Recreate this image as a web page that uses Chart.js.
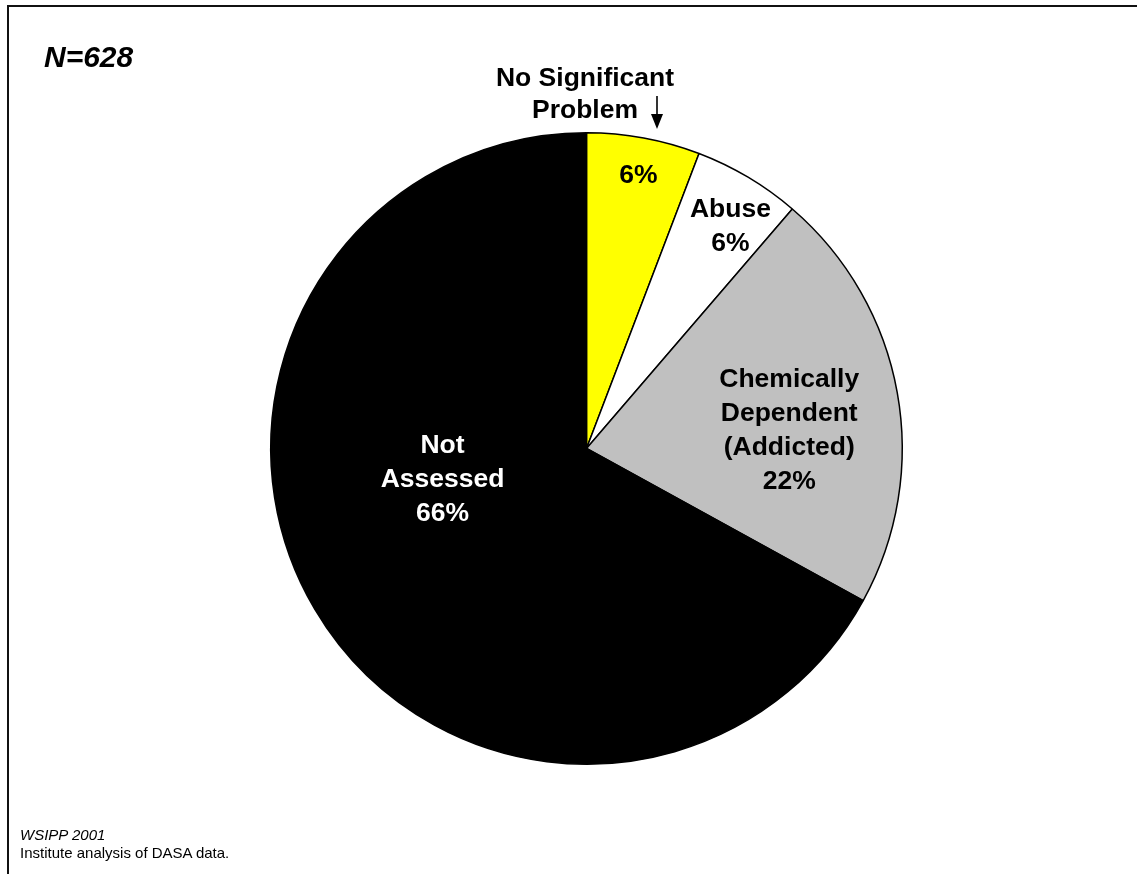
<!DOCTYPE html>
<html>
<head>
<meta charset="utf-8">
<title>Assessment status, N=628</title>
<script src="https://cdn.jsdelivr.net/npm/chart.js@4.4.0/dist/chart.umd.min.js"></script>
<style>
  html, body { margin: 0; padding: 0; background: #fff; }
  body { width: 1137px; height: 874px; position: relative; overflow: hidden;
         font-family: "Liberation Sans", Arial, sans-serif; color: #000; }
  .wrap { position: absolute; left: 0; top: 0; width: 1137px; height: 874px; }
  .frame { position: absolute; left: 7px; top: 5px; width: 1200px; height: 1000px;
           border-left: 2px solid #111; border-top: 2px solid #111; pointer-events: none; }
  .note { position: absolute; white-space: nowrap; }
  #nlabel { left: 44px; top: 42px; font-size: 30px; line-height: 30px; font-weight: bold; font-style: italic; }
  #callout { left: 470px; top: 61px; width: 230px; text-align: center; font-size: 26.5px; line-height: 32px; font-weight: bold; }
  #source { left: 20px; top: 826px; font-size: 15px; line-height: 18px; }
  #source i { font-style: italic; }
  .arrow { position: absolute; left: 651px; top: 96px; width: 12px; height: 33px; }
</style>
</head>
<body>
<div class="wrap"><canvas id="pie"></canvas></div>
<div class="frame"></div>
<div class="note" id="nlabel">N=628</div>
<div class="note" id="callout">No Significant<br>Problem</div>
<svg class="arrow" viewBox="0 0 12 33">
  <line x1="6" y1="0" x2="6" y2="22" stroke="#000" stroke-width="1.6"/>
  <polygon points="0,18 12,18 6,33" fill="#000"/>
</svg>
<div class="note" id="source"><i>WSIPP 2001</i><br>Institute analysis of DASA data.</div>

<script>
  // slices clockwise from 12 o'clock
  const categories = ['No Significant Problem', 'Abuse', 'Chemically Dependent (Addicted)', 'Not Assessed'];
  const shares     = [5.8, 5.5, 21.7, 67.0];
  const pctLabels  = ['6%', '6%', '22%', '66%'];
  const sliceText  = [[], ['Abuse'], ['Chemically', 'Dependent', '(Addicted)'], ['Not', 'Assessed']];

  const sliceColors = ['#ffff00', '#ffffff', '#c0c0c0', '#000000'];
  const textColors  = ['#000000', '#000000', '#000000', '#ffffff'];
  // where each label block sits: angle clockwise from top (deg), fraction of radius
  const labelSpots  = [{ deg: 10.7, r: 0.886 }, { deg: 32.7, r: 0.844 },
                       { deg: 84.5, r: 0.645 }, { deg: 258.7, r: 0.465 }];

  const LINE_H = 34;

  const sliceLabels = {
    id: 'sliceLabels',
    afterDatasetsDraw(chart) {
      const ctx = chart.ctx;
      const arcs = chart.getDatasetMeta(0).data;
      ctx.save();
      ctx.font = 'bold 26.5px "Liberation Sans", Arial, sans-serif';
      ctx.textAlign = 'center';
      ctx.textBaseline = 'alphabetic';
      arcs.forEach((arc, i) => {
        const spot = labelSpots[i];
        const a = spot.deg * Math.PI / 180;
        const cx = arc.x + Math.sin(a) * arc.outerRadius * spot.r;
        const cy = arc.y - Math.cos(a) * arc.outerRadius * spot.r;
        const lines = sliceText[i].concat([pctLabels[i]]);
        const first = cy - (lines.length - 1) * LINE_H / 2 + 9.5;
        ctx.fillStyle = textColors[i];
        lines.forEach((t, k) => ctx.fillText(t, cx, first + k * LINE_H));
      });
      ctx.restore();
    }
  };

  new Chart(document.getElementById('pie'), {
    type: 'pie',
    data: {
      labels: categories,
      datasets: [{
        data: shares,
        backgroundColor: sliceColors,
        borderColor: '#000',
        borderWidth: 1.5,
        hoverOffset: 0,
      }],
    },
    options: {
      responsive: true,
      maintainAspectRatio: false,
      animation: false,
      events: [],
      layout: { padding: { left: 270, right: 234, top: 131, bottom: 108 } },
      plugins: {
        legend: { display: false },
        tooltip: { enabled: false },
      },
    },
    plugins: [sliceLabels],
  });
</script>
</body>
</html>
